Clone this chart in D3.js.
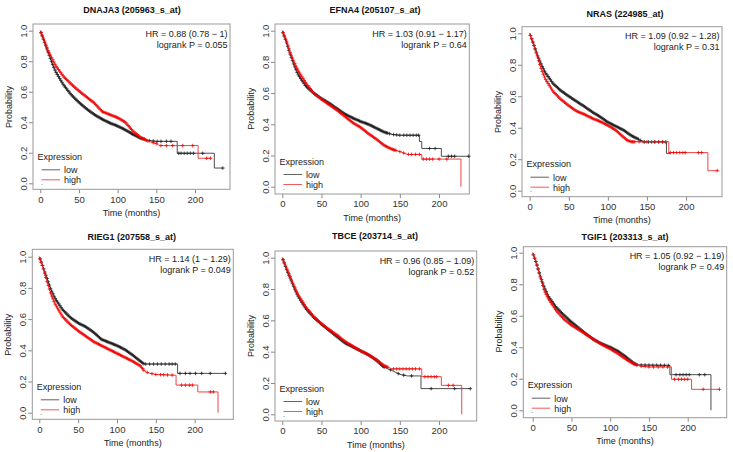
<!DOCTYPE html>
<html><head><meta charset="utf-8">
<script src="https://cdn.jsdelivr.net/npm/d3@7"></script>
<style>body{margin:0;background:#fff}svg{display:block}</style>
</head><body>
<svg id="c" width="733" height="452"></svg>
<script>
// ---------- DATA ----------
const titles = ["DNAJA3 (205963_s_at)","EFNA4 (205107_s_at)","NRAS (224985_at)","RIEG1 (207558_s_at)","TBCE (203714_s_at)","TGIF1 (203313_s_at)"];
const hrLabels = ["HR = 0.88 (0.78 \u2212 1)","HR = 1.03 (0.91 \u2212 1.17)","HR = 1.09 (0.92 \u2212 1.28)","HR = 1.14 (1 \u2212 1.29)","HR = 0.96 (0.85 \u2212 1.09)","HR = 1.05 (0.92 \u2212 1.19)"];
const pLabels = ["logrank P = 0.055","logrank P = 0.64","logrank P = 0.31","logrank P = 0.049","logrank P = 0.52","logrank P = 0.49"];
const xTicks = [0,50,100,150,200];
const yTicks = [0,0.2,0.4,0.6,0.8,1.0];
const legendTitle = "Expression";
const groups = ["low","high"];

// survival curves [months, probability]
const lowDNAJA3 = [[0,1],[5,0.93],[10,0.86],[15,0.79],[20,0.73],[30,0.645],[40,0.58],[50,0.53],[60,0.487],[70,0.45],[80,0.42],[90,0.395],[100,0.375],[110,0.35],[120,0.32],[130,0.295],[140,0.28],[150,0.275],[177,0.275],[177,0.197],[225,0.197],[225,0.10],[236,0.10]];
const highDNAJA3 = [[0,1],[5,0.94],[10,0.87],[15,0.82],[20,0.77],[30,0.70],[40,0.65],[50,0.605],[60,0.565],[70,0.525],[80,0.47],[90,0.45],[100,0.43],[110,0.40],[120,0.34],[130,0.30],[140,0.275],[150,0.26],[154,0.247],[204,0.247],[204,0.164],[221,0.164]];
const lowEFNA4 = [[0,1],[5,0.93],[10,0.85],[15,0.78],[20,0.72],[30,0.645],[40,0.6],[50,0.565],[60,0.535],[70,0.5],[80,0.465],[90,0.44],[100,0.418],[110,0.4],[120,0.375],[130,0.35],[140,0.335],[150,0.33],[175,0.33],[175,0.29],[178,0.29],[178,0.245],[203,0.245],[203,0.195],[238,0.195]];
const highEFNA4 = [[0,1],[5,0.94],[10,0.86],[15,0.8],[20,0.745],[30,0.665],[40,0.6],[50,0.56],[60,0.525],[70,0.49],[80,0.45],[90,0.41],[100,0.38],[110,0.34],[120,0.305],[130,0.265],[140,0.24],[150,0.225],[160,0.207],[178,0.207],[178,0.177],[228,0.177],[228,0]];
const lowNRAS = [[0,1],[5,0.93],[10,0.86],[15,0.8],[20,0.75],[30,0.68],[40,0.635],[50,0.6],[60,0.567],[70,0.535],[80,0.5],[90,0.47],[100,0.435],[110,0.41],[120,0.385],[130,0.35],[140,0.325],[145,0.31],[175,0.31],[175,0.237],[180,0.237]];
const highNRAS = [[0,1],[5,0.93],[10,0.85],[15,0.77],[20,0.71],[30,0.63],[40,0.58],[50,0.54],[60,0.505],[70,0.485],[80,0.46],[90,0.44],[100,0.415],[110,0.385],[120,0.34],[125,0.32],[130,0.311],[178,0.311],[178,0.242],[228,0.242],[228,0.127],[240,0.127]];
const lowRIEG1 = [[0,1],[5,0.93],[10,0.86],[15,0.79],[20,0.735],[30,0.66],[40,0.61],[50,0.575],[60,0.55],[70,0.515],[80,0.47],[90,0.45],[100,0.43],[110,0.405],[120,0.37],[130,0.33],[135,0.312],[178,0.312],[178,0.252],[240,0.252]];
const highRIEG1 = [[0,1],[5,0.93],[10,0.84],[15,0.76],[20,0.70],[30,0.615],[40,0.565],[50,0.525],[60,0.49],[70,0.455],[80,0.43],[90,0.405],[100,0.38],[110,0.355],[120,0.33],[130,0.3],[135,0.27],[140,0.255],[150,0.245],[176,0.24],[176,0.177],[204,0.177],[204,0.133],[230,0.133],[230,0]];
const lowTBCE = [[0,1],[5,0.93],[10,0.87],[15,0.81],[20,0.755],[30,0.675],[40,0.62],[50,0.575],[60,0.535],[70,0.495],[80,0.455],[90,0.43],[100,0.405],[110,0.38],[120,0.345],[130,0.3],[140,0.28],[150,0.255],[160,0.245],[177,0.245],[177,0.164],[240,0.164]];
const highTBCE = [[0,1],[5,0.94],[10,0.88],[15,0.82],[20,0.765],[30,0.685],[40,0.625],[50,0.578],[60,0.54],[70,0.505],[80,0.465],[90,0.435],[100,0.405],[110,0.38],[120,0.35],[130,0.31],[140,0.29],[178,0.29],[178,0.24],[203,0.24],[203,0.185],[229,0.185],[229,0]];
const lowTGIF1 = [[0,1],[5,0.93],[10,0.85],[15,0.78],[20,0.725],[30,0.655],[40,0.605],[50,0.56],[60,0.52],[70,0.48],[80,0.445],[90,0.42],[100,0.4],[110,0.375],[120,0.34],[130,0.3],[135,0.288],[177,0.285],[177,0.226],[230,0.226],[230,0]];
const highTGIF1 = [[0,1],[5,0.93],[10,0.84],[15,0.76],[20,0.71],[30,0.635],[40,0.58],[50,0.54],[60,0.51],[70,0.478],[80,0.445],[90,0.415],[100,0.39],[110,0.36],[120,0.325],[130,0.295],[140,0.28],[150,0.275],[179,0.275],[179,0.197],[205,0.197],[205,0.133],[241,0.133]];

// censoring marks (months): dense early band, then individual marks in the tails
const denseCensorTimes = [1,2.5,4,5.5,7,8.5,10,11.5,13,14.5,16,17.5,19,20.5,22,23.5,25,26.5,28,29.5,31,32.5,34,35.5,37,38.5,40,41.5,43,44.5,46,47.5,49,50.5,52,53.5,55,56.5,58,59.5,61,62.5,64,65.5,67,68.5,70,71.5,73,74.5,76,77.5,79,80.5,82,83.5,85,86.5,88,89.5,91,92.5,94,95.5,97,98.5,100,101.5,103,104.5,106,107.5,109,110.5,112,113.5,115,116.5,118,119.5,121,122.5,124,125.5,127,128.5,130,131.5,133,134.5,136,137.5,139,140.5,142,143.5,145];
const denseUntilLow = [135,135,140,135,130,135];
const denseUntilHigh = [140,145,135,135,135,135];
const tailCensorLow = [
  [141,146,151,156,163,169,179,182,186,190,194,198,210,236],
  [137,142,146,150,155,159,163,167,171,174,188,195,212,216,220,238],
  [142,147,152,156,160,165,170,174],
  [137,142,147,152,157,162,167,171,175,181,188,194,201,209,220,239.5],
  [138,148,155,165,190,220,240],
  [140,145,150,155,160,165,170,175,185,190,194,198,202,215,222]
];
const tailCensorHigh = [
  [146,150,156,163,171,184,197,215,220],
  [150,155,161,165,170,175,180,184,188,192,200,210],
  [140,145,150,160,165,170,180,184,188,192,196,199,216,220,240],
  [139,145,150,156,160,165,171,183,188,193,197,220,224],
  [142,146,150,154,158,162,166,170,175,182,186,190,194,197,212,218],
  [140,145,150,156,162,168,174,183,188,192,196,200,220,241]
];
const lowCurves = [lowDNAJA3,lowEFNA4,lowNRAS,lowRIEG1,lowTBCE,lowTGIF1];
const highCurves = [highDNAJA3,highEFNA4,highNRAS,highRIEG1,highTBCE,highTGIF1];

// ---------- LAYOUT ----------
const layout = [
  {box:[33,24,230,189.3], x0:40.3, x200:195, y1:30.7, y0:183.3, tx:132, ty:10},
  {box:[275,24,469.3,194], x0:282.3, x200:439, y1:30.7, y0:186.7, tx:375, ty:10},
  {box:[522,26.7,722,196.7], x0:529.7, x200:686, y1:33.3, y0:190.7, tx:625, ty:13.3},
  {box:[32.3,249.3,233.3,419.3], x0:39.3, x200:194.7, y1:256.7, y0:412.7, tx:131.7, ty:236.7},
  {box:[275,251,476.7,421], x0:282.3, x200:439, y1:257.7, y0:414.3, tx:375, ty:236},
  {box:[523.3,246.7,726.7,417.7], x0:532.7, x200:687.7, y1:252.7, y0:410.3, tx:625, ty:236.7}
];
const FONT = "'Liberation Sans', Arial, Helvetica, sans-serif";
const LOW_LINE = "#3a3a3a", LOW_MARK = "#1a1a1a";
const HIGH_LINE = "#ee3030", HIGH_MARK = "#f00000";

function survAt(pts, t) {
  for (let i = 0; i < pts.length - 1; i++) {
    const [t0, s0] = pts[i], [t1, s1] = pts[i + 1];
    if (t1 === t0) continue;
    if (t >= t0 && t <= t1) return s0 + (s1 - s0) * (t - t0) / (t1 - t0);
  }
  return null;
}

const svg = d3.select("#c").style("font-family", FONT);

layout.forEach((L, i) => {
  const [bx0, by0, bx1, by1] = L.box;
  const x = d3.scaleLinear().domain([0, 200]).range([L.x0, L.x200]);
  const y = d3.scaleLinear().domain([0, 1]).range([L.y0, L.y1]);
  const g = svg.append("g");

  g.append("text").attr("x", L.tx).attr("y", L.ty + 3.3).attr("text-anchor", "middle")
    .attr("font-size", 9).attr("font-weight", "bold").attr("fill", "#111").text(titles[i]);

  const xa = g.append("g").attr("transform", `translate(0,${by1})`)
    .call(d3.axisBottom(x).tickValues(xTicks).tickSize(4).tickPadding(2.5));
  xa.select(".domain").remove();
  xa.selectAll(".tick line").attr("stroke", "#888");
  xa.selectAll(".tick text").attr("font-size", 9.5).attr("font-family", FONT).attr("fill", "#333");

  const ya = g.append("g").attr("transform", `translate(${bx0},0)`)
    .call(d3.axisLeft(y).tickValues(yTicks).tickSize(4).tickFormat(d3.format(".1f")));
  ya.select(".domain").remove();
  ya.selectAll(".tick line").attr("stroke", "#888");
  ya.selectAll(".tick text").attr("font-size", 9.5).attr("font-family", FONT).attr("fill", "#333")
    .attr("transform", "rotate(-90)").attr("x", 0).attr("y", -6.5).attr("dy", 0)
    .attr("text-anchor", "middle");

  g.append("rect").attr("x", bx0).attr("y", by0).attr("width", bx1 - bx0).attr("height", by1 - by0)
    .attr("fill", "none").attr("stroke", "#999").attr("stroke-width", 1);

  g.append("text").attr("x", (bx0 + bx1) / 2).attr("y", by1 + 26.6).attr("text-anchor", "middle")
    .attr("font-size", 9).attr("fill", "#222").text("Time (months)");
  g.append("text").attr("transform", `translate(${bx0 - 21.5},${(L.y0 + L.y1) / 2}) rotate(-90)`)
    .attr("text-anchor", "middle").attr("font-size", 9).attr("fill", "#222").text("Probability");

  const line = d3.line().x(d => x(d[0])).y(d => y(d[1]));
  const series = [
    {pts: lowCurves[i], line: LOW_LINE, mark: LOW_MARK, until: denseUntilLow[i], tail: tailCensorLow[i]},
    {pts: highCurves[i], line: HIGH_LINE, mark: HIGH_MARK, until: denseUntilHigh[i], tail: tailCensorHigh[i]}
  ];
  series.forEach(s => {
    g.append("path").attr("d", line(s.pts)).attr("fill", "none")
      .attr("stroke", s.line).attr("stroke-width", 0.9);
    const times = denseCensorTimes.filter(t => t <= s.until).concat(s.tail);
    let d = "";
    times.forEach(t => {
      const v = survAt(s.pts, t);
      if (v === null) return;
      const px = x(t), py = y(v);
      d += `M${px - 1.8},${py}h3.6M${px},${py - 1.8}v3.6`;
    });
    g.append("path").attr("d", d).attr("fill", "none").attr("stroke", s.mark).attr("stroke-width", 0.75);
  });

  g.append("text").attr("x", bx1 - 2.5).attr("y", by0 + 12.5).attr("text-anchor", "end")
    .attr("font-size", 9).attr("fill", "#222").text(hrLabels[i]);
  g.append("text").attr("x", bx1 - 2.5).attr("y", by0 + 23.5).attr("text-anchor", "end")
    .attr("font-size", 9).attr("fill", "#222").text(pLabels[i]);

  g.append("text").attr("x", bx0 + 4.5).attr("y", by1 - 29.5).attr("font-size", 9)
    .attr("fill", "#222").text(legendTitle);
  const legColors = [LOW_LINE, HIGH_LINE];
  groups.forEach((name, k) => {
    const ly = by1 - 19.5 + k * 10;
    g.append("line").attr("x1", bx0 + 8.5).attr("x2", bx0 + 27).attr("y1", ly).attr("y2", ly)
      .attr("stroke", legColors[k]).attr("stroke-width", 0.8);
    g.append("text").attr("x", bx0 + 31).attr("y", ly + 3.3).attr("font-size", 9)
      .attr("fill", "#222").text(name);
  });
  g.append("text").attr("x", bx0 + 8).attr("y", by1 - 4.5).attr("font-size", 7)
    .attr("fill", "#444").text(".");
});
</script>
</body></html>
